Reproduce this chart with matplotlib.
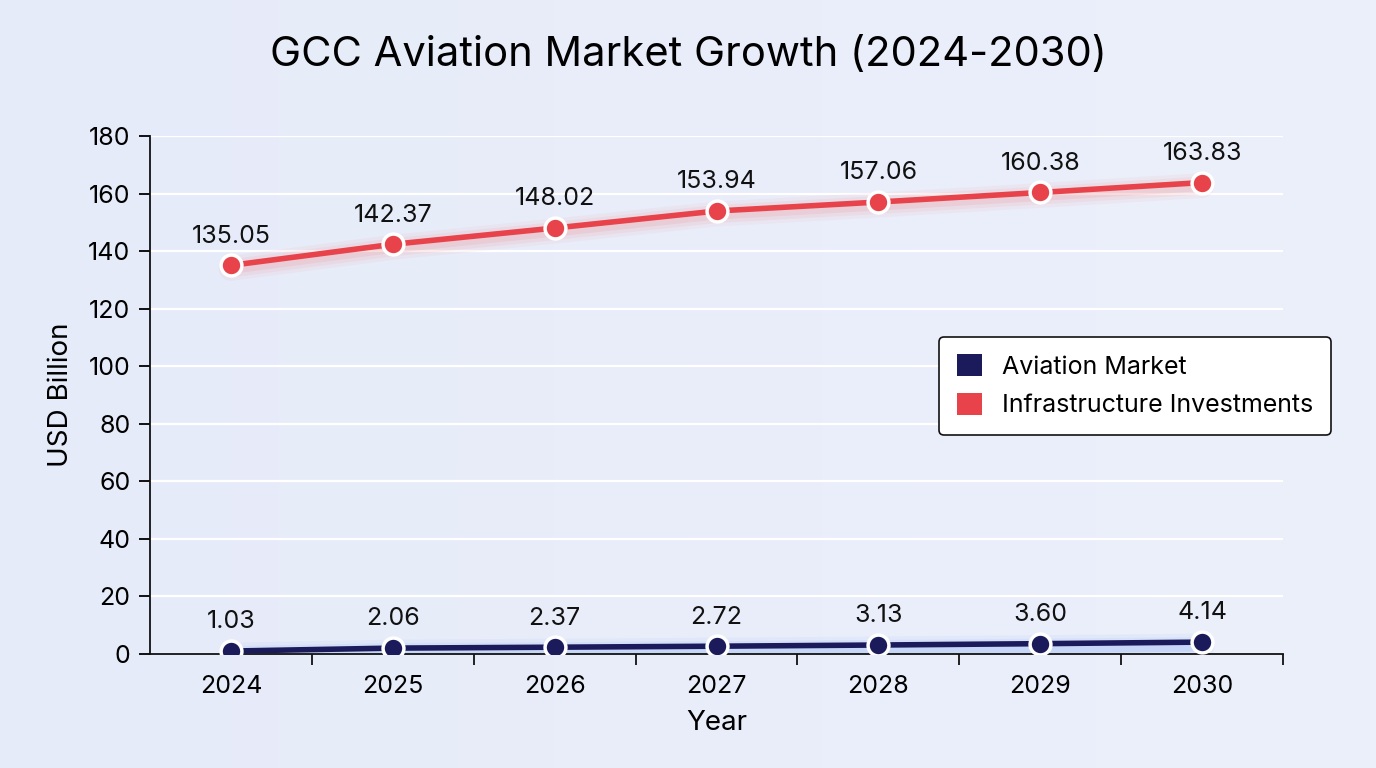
import numpy as np
import matplotlib.pyplot as plt
import matplotlib.transforms as mtransforms
from matplotlib.colors import LinearSegmentedColormap
from matplotlib.patches import Patch

plt.rcParams['font.family'] = ['Inter', 'DejaVu Sans']

years = ['2024', '2025', '2026', '2027', '2028', '2029', '2030']
aviation = [1.03, 2.06, 2.37, 2.72, 3.13, 3.60, 4.14]
infra = [135.05, 142.37, 148.02, 153.94, 157.06, 160.38, 163.83]

navy = '#1b1b5c'
red = '#e8434a'
bg = '#e9eefa'

fig = plt.figure(figsize=(13.76, 7.68), dpi=100)
fig.patch.set_facecolor(bg)

# soft background gradient
bgax = fig.add_axes([0, 0, 1, 1], zorder=-10)
grad = np.linspace(0, 1, 256).reshape(1, -1)
bgax.imshow(grad, aspect='auto', extent=[0, 1, 0, 1],
            cmap=LinearSegmentedColormap.from_list('bg', ['#e6ebf9', '#ecf0fb']))
bgax.axis('off')

ax = fig.add_axes([0.109, 0.1484, 0.8235, 0.6745])
ax.set_facecolor('none')

x = np.arange(len(years))

# glow under lines
for lw, a in [(18, 0.06), (13, 0.08), (8, 0.12)]:
    off = mtransforms.offset_copy(ax.transData, fig=fig, x=0, y=-4, units='dots')
    ax.plot(x, aviation, color='#5b8ef0', lw=lw, alpha=a, solid_capstyle='round', transform=off, zorder=2)
    off2 = mtransforms.offset_copy(ax.transData, fig=fig, x=0, y=-3, units='dots')
    ax.plot(x, infra, color='#f06a70', lw=lw, alpha=a, solid_capstyle='round', transform=off2, zorder=2)

ax.plot(x, aviation, color=navy, lw=4, marker='o', ms=15, mfc=navy, mec='white', mew=2.5, zorder=4)
ax.plot(x, infra, color=red, lw=4, marker='o', ms=15, mfc=red, mec='white', mew=2.5, zorder=4)

for xi, v in zip(x, aviation):
    ax.annotate(f'{v:.2f}', (xi, v), xytext=(0, 21), textcoords='offset points',
                ha='center', va='center', fontsize=18, color='#111111', zorder=5)
for xi, v in zip(x, infra):
    ax.annotate(f'{v:.2f}', (xi, v), xytext=(0, 21), textcoords='offset points',
                ha='center', va='center', fontsize=18, color='#111111', zorder=5)

ax.set_xlim(-0.5, len(years) - 0.5)
ax.set_ylim(0, 180)
ax.set_yticks(np.arange(0, 181, 20))
ax.set_xticks(x)
ax.set_xticklabels(years)
ax.set_xticks(np.arange(0.5, len(years), 1.0), minor=True)
ax.tick_params(axis='x', which='major', length=0, pad=15, labelsize=18)
ax.tick_params(axis='x', which='minor', length=8, width=1.3, color='#111111')
ax.tick_params(axis='y', length=8, width=1.3, pad=6, labelsize=18)
ax.grid(axis='y', color='white', lw=1.6, zorder=0)
ax.set_axisbelow(True)

for s in ['top', 'right']:
    ax.spines[s].set_visible(False)
for s in ['left', 'bottom']:
    ax.spines[s].set_linewidth(1.3)
    ax.spines[s].set_color('#111111')

ax.set_xlabel('Year', fontsize=20, labelpad=9)
ax.set_ylabel('USD Billion', fontsize=20, labelpad=10)
fig.suptitle('GCC Aviation Market Growth (2024-2030)', fontsize=30, y=0.928, va='center')

handles = [Patch(facecolor=navy, label='Aviation Market'),
           Patch(facecolor=red, label='Infrastructure Investments')]
leg = ax.legend(handles=handles, loc='center right', bbox_to_anchor=(1.053, 0.518),
                fontsize=18, frameon=True, fancybox=True, handlelength=1.0, handleheight=1.0,
                borderpad=0.7, labelspacing=0.55, handletextpad=0.8)
leg.get_frame().set_edgecolor('#111111')
leg.get_frame().set_linewidth(1.2)
leg.get_frame().set_facecolor('white')
leg.get_frame().set_alpha(1)

fig.savefig('out.png', dpi=100, facecolor=fig.get_facecolor())
